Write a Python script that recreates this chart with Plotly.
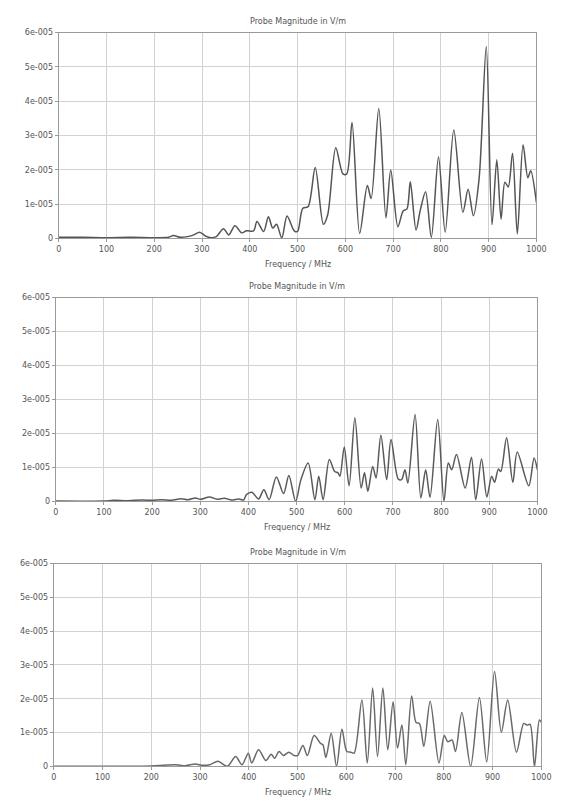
import plotly.graph_objects as go

# ---- data (frequency in MHz, magnitude in V/m) ----
f1 = [0, 50, 100, 150, 200, 230, 240, 255, 270, 283, 295, 308, 319, 330, 345, 356, 369, 383,
      393, 408, 415, 429, 439, 448, 456, 467, 478, 493, 500, 511, 522, 537, 554, 563, 580,
      595, 603, 614, 630, 646, 654, 670, 685, 695, 710, 721, 729, 736, 748, 757, 768, 780,
      795, 809, 827, 846, 857, 868, 880, 895, 907, 917, 926, 934, 941, 950, 960, 972, 982,
      988, 1000]
v1 = [0.03, 0.03, 0.02, 0.03, 0.02, 0.03, 0.08, 0.03, 0.05, 0.1, 0.18, 0.06, 0.02, 0.05, 0.28,
      0.1, 0.37, 0.16, 0.22, 0.22, 0.49, 0.2, 0.63, 0.3, 0.41, 0.01, 0.65, 0.22, 0.2, 0.88,
      0.92, 2.07, 0.41, 0.68, 2.64, 1.88, 1.88, 3.38, 0.14, 1.54, 1.16, 3.79, 0.6, 1.99, 0.34,
      0.8, 0.86, 1.65, 0.24, 0.83, 1.36, 0.03, 2.37, 0.18, 3.16, 0.76, 1.43, 0.66, 1.74, 5.6,
      0.4, 2.29, 0.56, 1.64, 1.5, 2.48, 0.13, 2.73, 1.77, 1.97, 1.04]

f2 = [0, 100, 120, 150, 180, 200, 220, 240, 260, 275, 290, 300, 319, 335, 350, 365, 380, 390,
      396, 407, 421, 432, 443, 458, 473, 484, 498, 509, 524, 538, 546, 555, 568, 579, 586,
      590, 599, 609, 621, 634, 641, 648, 658, 665, 675, 687, 696, 711, 718, 725, 731, 746,
      758, 768, 777, 793, 806, 815, 822, 832, 850, 863, 872, 884, 895, 905, 911, 919, 924,
      936, 949, 958, 982, 993, 1000]
v2 = [0.01, 0.01, 0.03, 0.02, 0.04, 0.03, 0.05, 0.03, 0.08, 0.05, 0.1, 0.06, 0.13, 0.06, 0.09,
      0.04, 0.07, 0.04, 0.2, 0.27, 0.07, 0.34, 0.05, 0.72, 0.23, 0.76, 0.0, 0.64, 1.13, 0.05,
      0.74, 0.05, 1.23, 0.88, 0.84, 0.74, 1.6, 0.46, 2.46, 0.39, 0.84, 0.3, 1.03, 0.69, 1.95,
      0.64, 1.82, 0.66, 0.64, 0.93, 0.54, 2.56, 0.1, 0.93, 0.12, 2.41, 0.0, 1.13, 0.93, 1.38,
      0.39, 1.3, 0.05, 1.25, 0.13, 0.74, 0.56, 0.95, 0.88, 1.87, 0.56, 1.45, 0.46, 1.28, 0.93]

f3 = [0, 100, 200, 225, 250, 270, 290, 305, 320, 337, 356, 373, 386, 399, 406, 420, 435,
      446, 453, 462, 471, 482, 493, 500, 511, 520, 534, 547, 552, 558, 569, 580, 591, 601,
      609, 616, 632, 643, 654, 664, 675, 685, 696, 705, 714, 722, 734, 743, 750, 759, 772,
      790, 801, 808, 817, 824, 837, 855, 873, 888, 904, 918, 931, 949, 964, 971, 977, 986,
      996, 1000]
v3 = [0.0, 0.0, 0.01, 0.03, 0.05, 0.02, 0.07, 0.03, 0.05, 0.15, 0.0, 0.29, 0.05, 0.39, 0.1,
      0.49, 0.17, 0.36, 0.24, 0.44, 0.32, 0.42, 0.32, 0.32, 0.62, 0.32, 0.91, 0.68, 0.64,
      0.26, 0.98, 0.0, 1.1, 0.44, 0.42, 0.39, 1.96, 0.1, 2.32, 0.29, 2.32, 0.49, 1.91, 0.54,
      1.22, 0.05, 2.08, 1.3, 1.27, 0.59, 1.93, 0.1, 0.91, 0.73, 0.78, 0.44, 1.59, 0.0, 2.04,
      0.13, 2.81, 1.01, 1.96, 0.42, 1.27, 1.22, 1.24, 0.0, 1.37, 1.3]

series = [(f1, v1), (f2, v2), (f3, v3)]

y_tickvals = [0, 1e-5, 2e-5, 3e-5, 4e-5, 5e-5, 6e-5]
y_ticktext = ["0", "1e-005", "2e-005", "3e-005", "4e-005", "5e-005", "6e-005"]
x_tickvals = list(range(0, 1001, 100))
title_text = "Probe Magnitude in V/m"
xlabel_text = "Frequency / MHz"

# ---- layout geometry (pixels) ----
W, H = 565, 801
boxes = [  # left, right, top, bottom
    (57, 546, 29, 237),
    (54, 547, 297, 503),
    (52, 551, 566, 771),
]
line_colors = ["#555555", "#5a5a5a", "#6a6a6a"]

fig = go.Figure()
font_col = "#555555"
tick_font = dict(family="DejaVu Sans", size=8, color=font_col)

annotations = []
for i, ((fx, vy), (l, r, t, b)) in enumerate(zip(series, boxes)):
    n = "" if i == 0 else str(i + 1)
    fig.add_trace(go.Scatter(
        x=fx, y=[v * 1e-5 for v in vy],
        mode="lines", line=dict(color=line_colors[i], width=1.5, shape="spline", smoothing=0.85),
        xaxis="x" + n, yaxis="y" + n, showlegend=False, hoverinfo="skip", cliponaxis=True))
    xd = [l / W, r / W]
    yd = [1 - b / H, 1 - t / H]
    common = dict(
        showgrid=True, gridcolor="#d2d2d2", gridwidth=1, griddash="solid",
        showline=True, linecolor="#9a9a9a", linewidth=1.2, mirror=True,
        ticks="outside", ticklen=3, tickcolor="#9a9a9a",
        tickfont=tick_font, zeroline=False, fixedrange=True)
    fig.layout["xaxis" + n] = dict(domain=xd, range=[0, 1000], anchor="y" + n,
                                   tickvals=x_tickvals, **common)
    fig.layout["yaxis" + n] = dict(domain=yd, range=[0, 6e-5], anchor="x" + n,
                                   tickvals=y_tickvals, ticktext=y_ticktext, **common)
    cx = (l + r) / 2 / W
    annotations.append(dict(text=title_text, x=cx, y=1 - (t - 11) / H, xref="paper", yref="paper",
                            showarrow=False, font=dict(family="DejaVu Sans", size=8, color=font_col),
                            xanchor="center", yanchor="middle"))
    annotations.append(dict(text=xlabel_text, x=cx, y=1 - (b + 26) / H, xref="paper", yref="paper",
                            showarrow=False, font=dict(family="DejaVu Sans", size=8, color=font_col),
                            xanchor="center", yanchor="middle"))

fig.update_layout(
    width=W, height=H, margin=dict(l=0, r=0, t=0, b=0),
    paper_bgcolor="white", plot_bgcolor="white",
    annotations=annotations, showlegend=False)

fig.write_html("out.html")
